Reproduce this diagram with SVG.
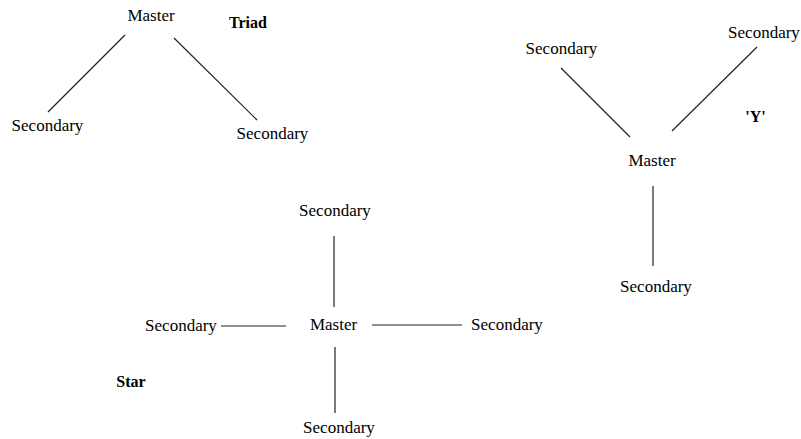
<svg xmlns="http://www.w3.org/2000/svg" width="801" height="439" viewBox="0 0 801 439">
<style>
text{font-family:"Liberation Serif","Times New Roman",serif;fill:#000;text-anchor:middle}
.n{font-size:17px}
.t{font-size:16px;font-weight:bold}
.c line{stroke:#222;stroke-width:1.2}
</style>
<rect width="801" height="439" fill="#fff"/>
<g class="c" id="connectors">
<line x1="125" y1="35" x2="48" y2="112"/>
<line x1="174" y1="38" x2="257" y2="120"/>
<line x1="561" y1="68" x2="630" y2="137"/>
<line x1="757" y1="47" x2="672" y2="131"/>
<line x1="653" y1="186" x2="653" y2="266"/>
<line x1="334" y1="236" x2="334" y2="307"/>
<line x1="335" y1="347" x2="335" y2="413"/>
<line x1="221" y1="326" x2="286" y2="326"/>
<line x1="372" y1="325" x2="462" y2="325"/>
</g>
<g id="triad-master"><text class="n" x="151" y="21">Master</text></g>
<g id="triad-sec-left"><text class="n" x="47.5" y="131">Secondary</text></g>
<g id="triad-sec-right"><text class="n" x="272.5" y="139">Secondary</text></g>
<g id="triad-label"><text class="t" x="248" y="28">Triad</text></g>
<g id="y-master"><text class="n" x="652" y="166">Master</text></g>
<g id="y-sec-left"><text class="n" x="561.5" y="54">Secondary</text></g>
<g id="y-sec-right"><text class="n" x="764" y="38">Secondary</text></g>
<g id="y-sec-bottom"><text class="n" x="656" y="292">Secondary</text></g>
<g id="y-label"><text class="t" x="755.5" y="122">'Y'</text></g>
<g id="star-master"><text class="n" x="333.5" y="330">Master</text></g>
<g id="star-sec-top"><text class="n" x="335" y="216">Secondary</text></g>
<g id="star-sec-left"><text class="n" x="181" y="331">Secondary</text></g>
<g id="star-sec-right"><text class="n" x="507" y="330">Secondary</text></g>
<g id="star-sec-bottom"><text class="n" x="339" y="433">Secondary</text></g>
<g id="star-label"><text class="t" x="131" y="387">Star</text></g>
</svg>
